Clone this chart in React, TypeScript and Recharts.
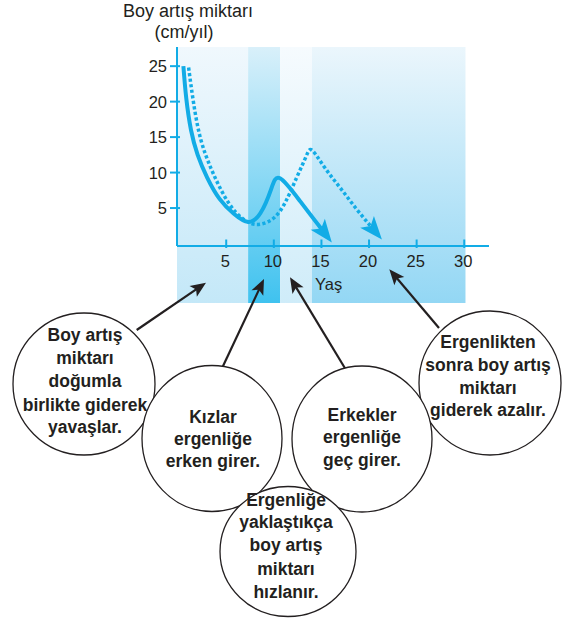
import React from 'react';
import { LineChart, Line, XAxis, YAxis, ReferenceArea } from 'recharts';

// values
const girlsAge = [0.5, 0.8, 1.3, 2.0, 3.0, 4.3, 5.8, 7.3, 8.6, 9.7, 10.65, 12.8, 15.0];
const girlsRate = [25, 20.5, 16, 12.5, 9.3, 6.3, 4.2, 3.05, 4.3, 7.6, 9.2, 5.9, 2.05];
const boysAge = [1.05, 1.55, 2.3, 3.4, 4.6, 6.0, 7.5, 8.7, 10.0, 11.2, 12.4, 13.4, 14.05, 15.4, 17.0, 18.6, 20.2];
const boysRate = [24.8, 20, 14.8, 10.6, 7.2, 4.4, 2.9, 2.75, 3.6, 5.8, 9.3, 12.3, 13.1, 10.6, 7.8, 5.0, 2.4];

const xTicks = [5, 10, 15, 20, 25, 30];
const yTicks = [5, 10, 15, 20, 25];

// age bands (shaded columns)
const bandStarts = [-0.17, 7.3, 10.67, 14.0];
const bandEnds = [7.3, 10.67, 14.0, 30.13];
const bandTop = 27.7;
const bandBottom = -8.4;

const yTitle = ['Boy artış miktarı', '(cm/yıl)'];
const xTitle = 'Yaş';

const notes = [
  ['Boy artış', 'miktarı', 'doğumla', 'birlikte giderek', 'yavaşlar.'],
  ['Ergenlikten', 'sonra boy artış', 'miktarı', 'giderek azalır.'],
  ['Kızlar', 'ergenliğe', 'erken girer.'],
  ['Erkekler', 'ergenliğe', 'geç girer.'],
  ['Ergenliğe', 'yaklaştıkça', 'boy artış', 'miktarı', 'hızlanır.'],
];

const girls = girlsAge.map((age, i) => ({ age, rate: girlsRate[i] }));
const boys = boysAge.map((age, i) => ({ age, rate: boysRate[i] }));

const CYAN = '#12ace6';
const INK = '#231f20';
const FONT = '"Liberation Sans", Arial, Helvetica, sans-serif';

const bandColors = [
  ['#f0f8fd', '#c4e8f8'],
  ['#d9f0fa', '#3fc2ef'],
  ['#f6fbfe', '#cfecf9'],
  ['#ebf6fc', '#93d7f4'],
];

// circle layout for the notes
const bubbles = [
  { cx: 84, cy: 384, rx: 71, ry: 71, tx: 85, lines: [341, 364, 387, 411, 433] },
  { cx: 490, cy: 383, rx: 71, ry: 72, tx: 488, lines: [348, 371, 394, 416] },
  { cx: 212, cy: 438.5, rx: 70, ry: 73, tx: 213, lines: [423, 445, 467] },
  { cx: 362, cy: 439, rx: 70, ry: 73, tx: 362, lines: [421, 443, 466] },
  { cx: 288, cy: 551.5, rx: 68, ry: 65, tx: 286, lines: [506, 528, 551, 575, 598] },
];

const pointers = [
  { x1: 136.7, y1: 330, x2: 206, y2: 282.7 },
  { x1: 222.7, y1: 366.7, x2: 264, y2: 279 },
  { x1: 345, y1: 368.3, x2: 290, y2: 277.3 },
  { x1: 439, y1: 328, x2: 389.3, y2: 269.3 },
];

const XTick = (props: any) => {
  const { x, y, payload } = props;
  return (
    <g>
      <line x1={x} x2={x} y1={y - 6.5} y2={y + 2} stroke={CYAN} strokeWidth={2} />
      <text x={x - 1} y={y + 20.5} textAnchor="middle" fontSize={16.5} fill={INK} fontFamily={FONT}>
        {payload.value}
      </text>
    </g>
  );
};

const YTick = (props: any) => {
  const { x, y, payload } = props;
  return (
    <g>
      <line x1={x - 7} x2={x + 3} y1={y} y2={y} stroke={CYAN} strokeWidth={2} />
      <text x={x - 10} y={y + 6} textAnchor="end" fontSize={16.5} fill={INK} fontFamily={FONT}>
        {payload.value}
      </text>
    </g>
  );
};

export default function App() {
  return (
    <div style={{ position: 'absolute', left: 0, top: 0, width: 562, height: 618, background: '#fff' }}>
      <LineChart
        width={562}
        height={618}
        margin={{ top: 47, right: 73, bottom: 342, left: 137 }}
        style={{ position: 'absolute', left: 0, top: 0 }}
      >
        <defs>
          {bandColors.map((c, i) => (
            <linearGradient key={i} id={`band${i}`} x1="0" y1="0" x2="0" y2="1">
              <stop offset="0%" stopColor={c[0]} />
              <stop offset="100%" stopColor={c[1]} />
            </linearGradient>
          ))}
          <marker
            id="headCyan"
            viewBox="-2 -11 28 22"
            markerWidth={28}
            markerHeight={22}
            refX={6}
            refY={0}
            orient="auto"
            markerUnits="userSpaceOnUse"
            overflow="visible"
          >
            <path d="M0,-9 L23,0 L0,9 L5.5,0 Z" fill={CYAN} stroke="none" />
          </marker>
        </defs>
        {bandStarts.map((s, i) => (
          <ReferenceArea
            key={i}
            x1={s}
            x2={bandEnds[i]}
            y1={bandBottom}
            y2={bandTop}
            ifOverflow="visible"
            fill={`url(#band${i})`}
            fillOpacity={1}
            stroke="none"
          />
        ))}
        <XAxis
          type="number"
          dataKey="age"
          domain={[-0.17, 32.6]}
          allowDataOverflow
          ticks={xTicks}
          interval={0}
          tick={XTick}
          tickLine={false}
          tickSize={0}
          tickMargin={0}
          height={30}
          axisLine={{ stroke: CYAN, strokeWidth: 2 }}
        />
        <YAxis
          type="number"
          domain={[-0.35, 27.7]}
          allowDataOverflow
          ticks={yTicks}
          interval={0}
          tick={YTick}
          tickLine={false}
          tickSize={0}
          tickMargin={0}
          width={40}
          axisLine={{ stroke: CYAN, strokeWidth: 2 }}
        />
        <Line
          data={boys}
          dataKey="rate"
          type="natural"
          stroke={CYAN}
          strokeWidth={3.5}
          strokeDasharray="3.2 2.4"
          dot={false}
          activeDot={false}
          isAnimationActive={false}
          markerEnd="url(#headCyan)"
        />
        <Line
          data={girls}
          dataKey="rate"
          type="natural"
          stroke={CYAN}
          strokeWidth={4}
          dot={false}
          activeDot={false}
          isAnimationActive={false}
          markerEnd="url(#headCyan)"
        />
      </LineChart>

      <svg
        width={562}
        height={618}
        style={{ position: 'absolute', left: 0, top: 0, pointerEvents: 'none' }}
        fontFamily={FONT}
      >
        <defs>
          <marker
            id="headInk"
            viewBox="-2 -8 20 16"
            markerWidth={20}
            markerHeight={16}
            refX={4}
            refY={0}
            orient="auto"
            markerUnits="userSpaceOnUse"
            overflow="visible"
          >
            <path d="M0,-6.5 L15.5,0 L0,6.5 L3.5,0 Z" fill={INK} stroke="none" />
          </marker>
        </defs>

        <text x={188} y={17} textAnchor="middle" fontSize={18} fill={INK}>{yTitle[0]}</text>
        <text x={184} y={38} textAnchor="middle" fontSize={18} fill={INK}>{yTitle[1]}</text>
        <text x={315} y={290} fontSize={16.5} fill={INK}>{xTitle}</text>

        {pointers.map((p, i) => {
          const dx = p.x2 - p.x1;
          const dy = p.y2 - p.y1;
          const len = Math.hypot(dx, dy);
          const k = (len - 11.5) / len;
          return (
            <line
              key={i}
              x1={p.x1}
              y1={p.y1}
              x2={p.x1 + dx * k}
              y2={p.y1 + dy * k}
              stroke={INK}
              strokeWidth={2.2}
              markerEnd="url(#headInk)"
            />
          );
        })}

        {bubbles.map((b, i) => (
          <g key={i}>
            <ellipse cx={b.cx} cy={b.cy} rx={b.rx} ry={b.ry} fill="#fff" stroke={INK} strokeWidth={1.3} />
            {notes[i].map((t, j) => (
              <text
                key={j}
                x={b.tx}
                y={b.lines[j]}
                textAnchor="middle"
                fontSize={17.5}
                fontWeight="bold"
                fill={INK}
              >
                {t}
              </text>
            ))}
          </g>
        ))}
      </svg>
    </div>
  );
}
